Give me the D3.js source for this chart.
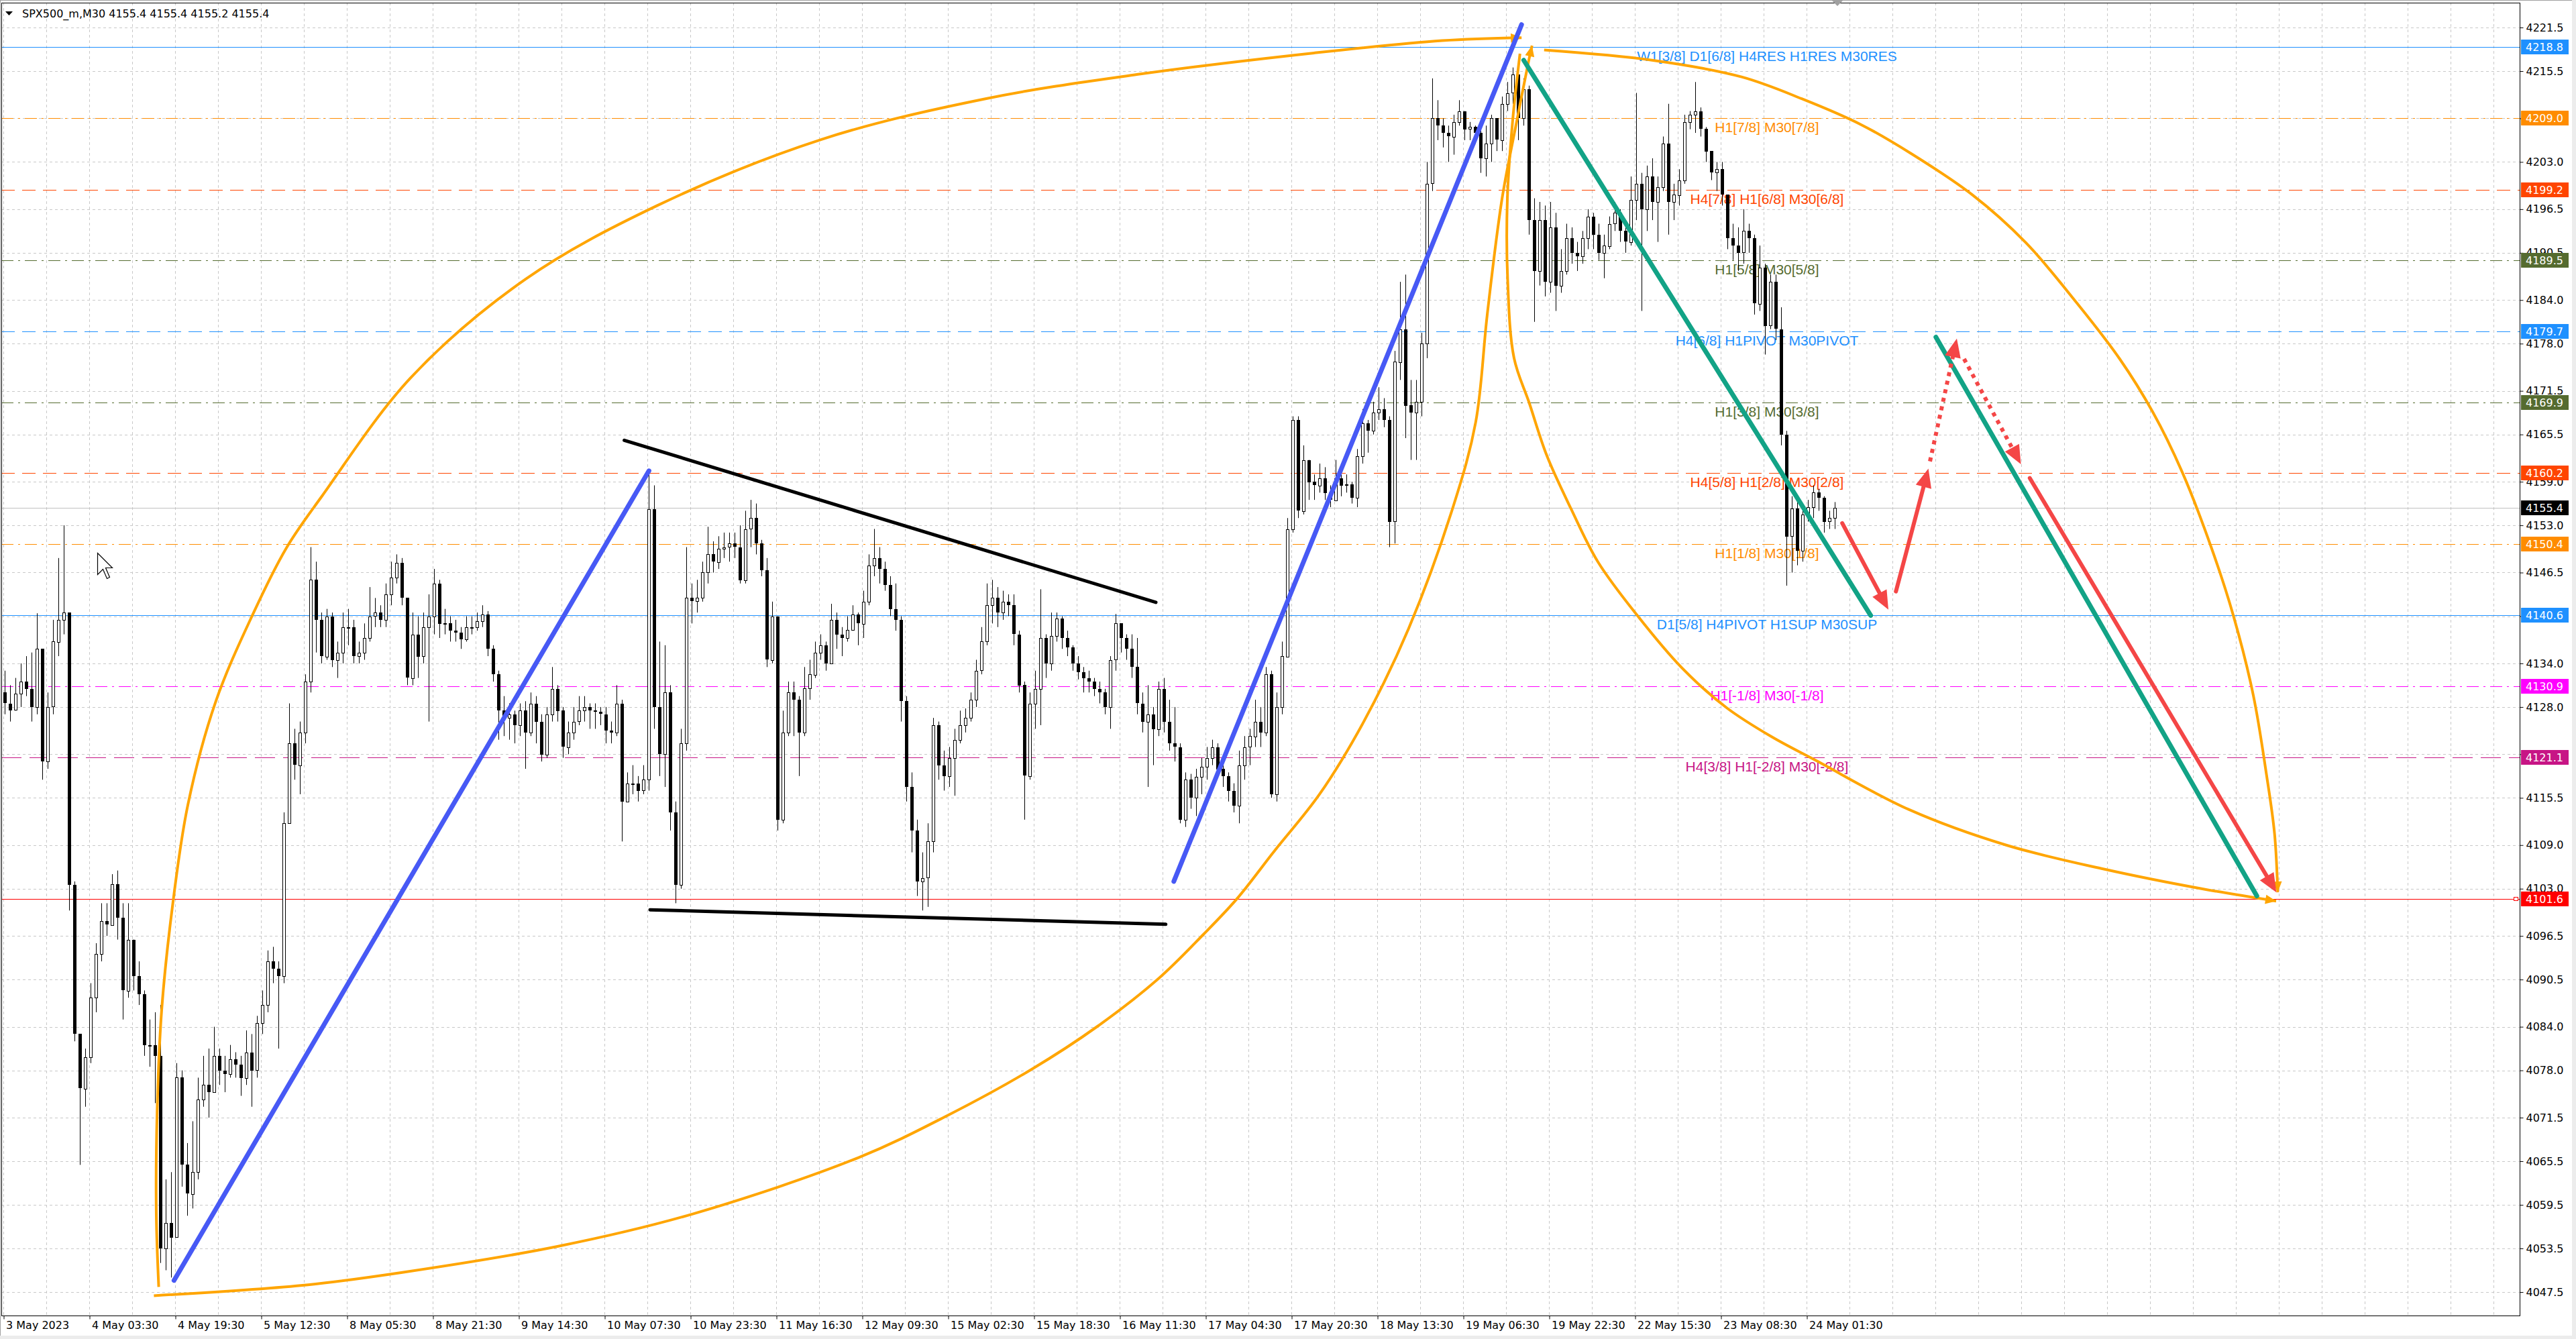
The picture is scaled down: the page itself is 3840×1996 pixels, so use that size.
<!DOCTYPE html>
<html>
<head>
<meta charset="utf-8">
<script src="https://cdnjs.cloudflare.com/ajax/libs/d3/7.8.5/d3.min.js"></script>
<style>
body { margin: 0; background: #fff; }
svg { display: block; }
</style>
</head>
<body>
<div id="container"></div>
<script>
var WIDTH = 3840,
	HEIGHT = 1996,
	PLOT_LEFT = 2,
	PLOT_TOP = 4,
	PLOT_RIGHT = 3756,
	PLOT_BOTTOM = 1961;

// hourly candles (open = previous close)
var FIRST_OPEN = 4130;
var closes = [
	4128.5,4127.6,4129.8,4131.5,4130.5,4128,4136,4120.5,4128,4137,
	4140,4141,4103.5,4083,4075.5,4079.8,4088,4094,4098.5,4098,
	4103.6,4099,4089,4096,4091,4088.5,4081.5,4081.5,4080,4053.5,
	4057,4055,4077,4065,4061,4064,4074,4076,4075,4080,
	4078,4077.5,4079.5,4078.8,4077,4080.5,4078,4084.5,4087,4093,
	4092,4091,4112,4123,4120,4124.5,4131.5,4145.5,4140,4135,
	4140.5,4134.5,4135.5,4139,4139,4135,4135.5,4137.5,4140.5,4141,
	4140,4143.5,4145.8,4147.8,4143,4132,4138,4135,4139,4140.5,
	4145,4139.5,4139.5,4138.5,4138.2,4137.3,4139,4139,4139.8,4140.7,
	4136,4132.5,4127.5,4126.5,4127,4125.5,4127.5,4124.5,4128.5,4126,
	4121.5,4127,4130.5,4127.5,4122.5,4124.5,4126,4127.5,4128,4127.5,
	4127.3,4127,4124.8,4124.5,4128.5,4115,4117.5,4117.5,4116.5,4118,
	4155.2,4128,4121.5,4130,4113.5,4103.5,4123,4143,4142.5,4143,
	4146.5,4149,4148,4149.8,4150,4150.5,4150,4145.5,4152.5,4154,
	4150.5,4146.8,4134.5,4140.5,4112.5,4124.5,4130,4129,4124.5,4130.6,
	4132.5,4135.5,4136.5,4134,4140,4138,4137.5,4138.6,4140.7,4139.5,
	4142.5,4147.5,4148.5,4147,4144.8,4141.5,4140,4128.8,4117,4111,
	4104,4104.5,4109.5,4125.5,4120,4118.5,4121,4123.5,4125.5,4126.5,
	4129,4133,4137,4142,4143,4141,4142.5,4142,4138,4131,
	4118.5,4128.5,4130.5,4137.5,4134,4137.8,4140.2,4137.5,4136.2,4134,
	4132.8,4132,4131.5,4130.5,4130,4128,4134.5,4139.5,4137.5,4136,
	4133.5,4128.5,4126,4127,4125,4130.5,4126,4123,4122.5,4112.5,
	4118,4115.5,4118.4,4119.8,4121,4122.5,4119.5,4118.5,4116.5,4114.5,
	4120,4122.5,4124,4126,4124.5,4132.5,4116,4128,4135,4152.5,
	4167.5,4155,4162,4159,4158.5,4159.5,4157.5,4156.5,4159.5,4158.5,
	4158.6,4156.8,4162.5,4167,4166,4168.5,4169,4167.5,4153.5,4175.5,
	4180,4169.5,4168.5,4170,4178,4200,4209,4208,4207,4206.5,
	4208.5,4210,4207.5,4207.8,4207,4203.5,4205.5,4209,4206,4211,
	4212.5,4215,4209,4213,4195,4188,4195,4186.5,4194,4186,
	4188,4192.5,4190.5,4190,4192.5,4195.5,4193,4190.5,4191.5,4194.5,
	4196,4193.5,4192,4197.8,4200,4196.5,4201,4197.5,4199.5,4205.5,
	4197.5,4198.5,4200.5,4208.5,4209.5,4210,4207.6,4204.5,4201.5,4202,
	4198.5,4192.5,4191.5,4190.5,4193.5,4192.5,4183.5,4188.5,4180.5,4186.5,
	4180,4165.5,4151.5,4155.3,4149.5,4154.5,4155.5,4157.5,4156.8,4153.5,
	4154,4155.4
];
var highs = [
	4133,4131,4132,4134,4135,4135.5,4140.9,4136,4130,4140,
	4148.5,4153,4141,4104,4083,4081,4090,4095.5,4101,4101,
	4105,4105.5,4101,4101,4096,4093,4089,4085,4086,4087,
	4063,4064,4079,4078,4068,4071,4077,4080,4081,4084,
	4081,4080,4081.5,4080.5,4080,4083.5,4083,4085.5,4089,4094.5,
	4095,4093,4113.5,4128.5,4125,4126,4132.5,4150,4148,4141,
	4141.5,4141,4137,4141,4141.5,4140,4137,4139.5,4144.5,4143,
	4142,4145,4148,4149,4148.5,4143,4141,4140.5,4141,4143.5,
	4147,4145.5,4141.5,4140.5,4140,4139,4140.5,4140.5,4141,4142,
	4141.2,4136.5,4133,4129.5,4128.5,4127.5,4128.5,4128.8,4130,4129.5,
	4127,4128,4133.5,4131,4128,4126,4128,4129.5,4129.5,4128.5,
	4128.5,4128,4128,4126,4131,4129,4119,4120,4118.5,4120,
	4160,4158.5,4137,4136.5,4131,4115,4125,4150,4145,4145.5,
	4148,4152.8,4150.8,4151.5,4152,4152,4152,4153,4155,4156.5,
	4156,4151,4148.5,4142.5,4140.5,4127.5,4131.5,4131.5,4129.5,4133.5,
	4134.5,4137,4138,4137,4142.2,4141,4139,4140.5,4142,4141,
	4144,4149,4152.5,4150,4148,4146,4145,4140.5,4129.5,4119,
	4112.5,4108,4112,4126.5,4126,4122,4122.5,4125,4127.5,4127.8,
	4130,4134.5,4139,4145,4145.5,4144.5,4144,4143.5,4143.5,4138.5,
	4131.5,4130,4133,4144.2,4138,4141,4141,4140.5,4138.5,4136.5,
	4135,4133.5,4133,4132,4131.5,4130.5,4135,4140.8,4139.5,4138,
	4138,4137.5,4130,4131,4128,4131.5,4132,4129,4128,4123,
	4119,4118.8,4119.5,4121,4122.5,4123.5,4123,4121,4119,4117.5,
	4122,4124,4125,4129,4128,4133.5,4133,4130,4137,4154,
	4168,4168,4164,4162,4160,4161.5,4161,4158.5,4162,4160,
	4160,4159,4163.5,4169,4167.5,4170,4172,4170.5,4168,4177,
	4186.5,4187.5,4173,4173,4179.5,4203,4214.5,4211.5,4209,4208,
	4209.5,4211.5,4210,4208.5,4208,4208.5,4208,4209.5,4209,4212,
	4214,4216,4215.5,4214.5,4213.5,4198,4197.5,4197,4197.5,4196,
	4191,4194.5,4194,4192,4193.5,4196.5,4196,4194.5,4193,4195.5,
	4197.5,4196.5,4195,4201,4212.5,4201.5,4202.5,4203.5,4201,4206.5,
	4211,4200,4202,4209.5,4210,4214,4210.5,4207.8,4204.5,4203,
	4203,4198.5,4194.5,4194,4196.5,4194.5,4193,4191.5,4189,4187.5,
	4187.5,4183,4166,4157,4156.5,4156,4156.5,4158.5,4158,4157,
	4155,4156.2
];
var lows = [
	4127,4126,4127.5,4128,4129.5,4126,4127,4118,4119.5,4127,
	4135,4138,4100,4082,4065,4073,4079,4086,4093,4096.5,
	4098,4096,4085,4088,4089,4087,4080,4078.5,4073.5,4051.5,
	4050.5,4049.5,4055,4062,4058,4059,4063,4073,4071.5,4075,
	4076,4075,4077,4077,4074.5,4076,4073,4077,4083,4086,
	4090,4081,4090,4112,4118,4116,4123,4130,4135.5,4134,
	4134.5,4133.5,4132,4134,4136.5,4134,4134,4134.5,4137,4139,
	4139,4139,4142,4145,4142,4131,4131,4132,4134,4126,
	4138,4137.5,4138,4137,4137,4136,4137,4138,4138.5,4139,
	4135,4131.5,4123.5,4124,4123.5,4123,4124,4119.5,4124,4123,
	4120.5,4121,4126,4126,4121,4121.5,4123.5,4125.5,4126,4125,
	4125,4125.5,4123,4123,4124,4109.5,4115,4116,4115,4116,
	4116.5,4125,4118.5,4117,4111,4101,4103,4122,4139.5,4141,
	4142.5,4145,4146.5,4147,4148.5,4148,4148.5,4145,4145,4150,
	4149,4146,4133.5,4134,4111,4112,4124,4124,4118.5,4124,
	4129,4132,4134.5,4133,4134,4136,4135,4137,4138.5,4136.5,
	4137.5,4142,4146,4145,4144,4140.5,4138.5,4126,4115,4108,
	4102,4100,4100.5,4108,4118,4116.5,4117,4115.8,4123,4124.5,
	4126,4128,4132.5,4136.5,4139.5,4139,4140,4140.5,4136.5,4130,
	4112.5,4118,4125,4125.5,4132,4133,4137,4136,4135,4133,
	4131.8,4130,4130,4129.5,4128.5,4127,4125,4133,4135.5,4134.5,
	4132,4127,4124.5,4117,4120,4124,4124.5,4122,4120.5,4112,
	4111.5,4114,4113,4116,4118,4120,4118.5,4117,4115,4113.5,
	4112,4118,4120,4122.5,4122.5,4124,4115.5,4115,4127,4135,
	4152,4154,4154.5,4156.5,4156.5,4157.5,4156.5,4155.5,4156.5,4157,
	4157.5,4156,4155.5,4161.5,4163,4165.5,4167.5,4166.5,4150,4150.5,
	4173,4165,4162,4162,4168,4176,4199,4206,4205,4203,
	4204,4208,4206,4206,4205.5,4201.5,4201,4203,4204.5,4204.5,
	4210,4211,4206,4208,4193,4181,4186,4184.5,4185,4182.5,
	4185,4187.5,4189,4188,4189,4191,4191,4189.5,4187,4191,
	4193.5,4192,4190.5,4191.5,4195,4182.5,4193.5,4195,4192,4199,
	4193,4195,4197,4200,4207.5,4207,4206.5,4203,4200.5,4199,
	4197,4191,4189.5,4188,4189,4190.5,4182,4182.5,4176.5,4180,
	4178.5,4164,4144.7,4146.5,4147.5,4148,4153.5,4154,4155,4152,
	4152.5,4152.5
];

var priceTicks = [4221.5, 4215.5, 4209.0, 4203.0, 4196.5, 4190.5, 4184.0, 4178.0, 4171.5, 4165.5,
	4159.0, 4153.0, 4146.5, 4140.5, 4134.0, 4128.0, 4121.5, 4115.5, 4109.0, 4103.0,
	4096.5, 4090.5, 4084.0, 4078.0, 4071.5, 4065.5, 4059.5, 4053.5, 4047.5];
var timeLabels = ['3 May 2023', '4 May 03:30', '4 May 19:30', '5 May 12:30', '8 May 05:30', '8 May 21:30',
	'9 May 14:30', '10 May 07:30', '10 May 23:30', '11 May 16:30', '12 May 09:30', '15 May 02:30',
	'15 May 18:30', '16 May 11:30', '17 May 04:30', '17 May 20:30', '18 May 13:30', '19 May 06:30',
	'19 May 22:30', '22 May 15:30', '23 May 08:30', '24 May 01:30'];

var levelPrices = [4218.8, 4209.0, 4199.2, 4189.5, 4179.7, 4169.9, 4160.2, 4150.4, 4140.6, 4130.9, 4121.1, 4101.6];
var levelTexts = ['W1[3/8] D1[6/8] H4RES H1RES M30RES', 'H1[7/8] M30[7/8]', 'H4[7/8] H1[6/8] M30[6/8]',
	'H1[5/8] M30[5/8]', 'H4[6/8] H1PIVOT M30PIVOT', 'H1[3/8] M30[3/8]', 'H4[5/8] H1[2/8] M30[2/8]',
	'H1[1/8] M30[1/8]', 'D1[5/8] H4PIVOT H1SUP M30SUP', 'H1[-1/8] M30[-1/8]', 'H4[3/8] H1[-2/8] M30[-2/8]', ''];
var lastPrice = 4155.4;
var headerText = 'SPX500_m,M30  4155.4 4155.4 4155.2 4155.4';

// hand drawn objects, [bar, price, bar, price] (bar = M30 bar index)
var blueLines = [[63.6, 4049.1, 240.6, 4160.5], [436.2, 4104.0, 565.8, 4221.9]];
var greenLines = [[566.6, 4217.0, 695.9, 4140.6], [720.2, 4178.9, 839.8, 4102.0]];
var blackLines = [[231.4, 4164.7, 429.5, 4142.4], [241.0, 4100.1, 433.2, 4098.1]];
var redArrows = [[685.3, 4153.3, 702.5, 4141.4], [705.3, 4143.9, 717.4, 4160.8], [755.2, 4159.5, 847.1, 4102.5]];
var redDotted = [[718.0, 4161.8, 728.0, 4178.7], [730.7, 4175.9, 751.9, 4161.4]];

var arcLeftUpper = [[57.9, 4048.2], [57.0, 4058.1], [57.3, 4072.2], [59.0, 4086.3], [63.0, 4100.5], [68.8, 4114.6],
	[79.1, 4128.7], [92.9, 4140.7], [105.5, 4149.9], [118.7, 4157.0], [151.8, 4173.3], [194.7, 4186.9],
	[243.7, 4197.0], [304.9, 4206.1], [366.0, 4211.7], [423.8, 4215.1], [488.5, 4218.0], [536.2, 4219.7], [565.8, 4220.1]];
var arcLeftLower = [[56.1, 4047.0], [113.5, 4048.5], [148.7, 4050.2], [206.8, 4053.8], [256.5, 4058.2], [318.7, 4066.0],
	[351.9, 4071.8], [383.0, 4078.1], [407.9, 4084.1], [430.7, 4090.7], [447.2, 4096.7], [459.7, 4101.6],
	[473.7, 4108.2], [490.5, 4116.0], [507.0, 4126.0], [523.7, 4138.8], [540.5, 4155.8], [548.7, 4167.2],
	[553.0, 4182.0], [558.5, 4197.9], [564.1, 4208.8], [568.6, 4217.2], [569.7, 4219.0]];
var arcRightUpper = [[574.2, 4218.4], [614.4, 4217.0], [647.8, 4214.7], [670.2, 4211.7], [692.5, 4208.1], [711.2, 4204.1],
	[733.7, 4198.5], [753.7, 4191.9], [772.5, 4183.7], [788.7, 4175.9], [801.0, 4168.6], [811.9, 4160.4],
	[822.7, 4150.1], [831.2, 4140.4], [838.5, 4129.6], [843.4, 4118.7], [846.4, 4110.6], [847.6, 4102.5]];
var arcRightLower = [[565.2, 4217.9], [562.5, 4208.8], [560.5, 4197.9], [560.6, 4186.9], [563.0, 4176.0], [568.6, 4169.9],
	[575.2, 4162.6], [584.2, 4155.3], [594.2, 4148.0], [608.7, 4140.7], [625.5, 4133.4], [642.2, 4127.9],
	[659.0, 4123.9], [675.7, 4120.6], [710.1, 4113.9], [746.4, 4109.0], [782.8, 4105.7], [819.2, 4103.0], [847.0, 4101.3]];

var LABEL_BAR = 657.25;

var levelColors = ['#1E90FF', '#FF8C00', '#FF4500', '#556B2F', '#1E90FF', '#556B2F', '#FF4500', '#FF8C00',
	'#1E90FF', '#FF00FF', '#C71585', '#FF0000'];
var levelDash = [null, '18,7,3,7', '20,11', '18,7,3,7', '20,11', '18,7,3,7', '20,11', '18,7,3,7',
	null, '18,7,3,7', '30,12', null];

var xScale = d3.scaleLinear().domain([0, 937.75]).range([5, PLOT_RIGHT]);
var yScale = d3.scaleLinear().domain([4047.5, 4221.5]).range([1926, 41]);

var AXIS_FONT = '"DejaVu Sans", Verdana, sans-serif';
var TEXT_FONT = '"Liberation Sans", Arial, sans-serif';

var translate = function (x, y) {
	return "translate(" + x + "," + y + ")";
};

function drawGrid(svg) {
	var g = svg.append('g').attr('stroke', '#c8c8c8').attr('stroke-dasharray', '4,4').attr('stroke-width', 1);
	g.selectAll('line.v').data(d3.range(0, 938, 16)).enter()
		.append('line')
		.attr('x1', function(d){ return Math.round(xScale(d)) + 0.5; })
		.attr('x2', function(d){ return Math.round(xScale(d)) + 0.5; })
		.attr('y1', PLOT_TOP)
		.attr('y2', PLOT_BOTTOM);
	g.selectAll('line.h').data(priceTicks).enter()
		.append('line')
		.attr('x1', PLOT_LEFT)
		.attr('x2', PLOT_RIGHT)
		.attr('y1', function(d){ return Math.round(yScale(d)) + 0.5; })
		.attr('y2', function(d){ return Math.round(yScale(d)) + 0.5; });
}

function drawLevels(svg) {
	var g = svg.append('g');
	levelPrices.forEach(function(p, i) {
		var y = Math.round(yScale(p)) + 0.5;
		g.append('line')
			.attr('x1', PLOT_LEFT).attr('x2', PLOT_RIGHT)
			.attr('y1', y).attr('y2', y)
			.attr('stroke', levelColors[i])
			.attr('stroke-width', 1)
			.attr('stroke-dasharray', levelDash[i]);
		if (levelTexts[i]) {
			g.append('text')
				.attr('x', xScale(LABEL_BAR))
				.attr('y', y + 20)
				.attr('text-anchor', 'middle')
				.attr('font-family', TEXT_FONT)
				.attr('font-size', 21)
				.attr('fill', levelColors[i])
				.text(levelTexts[i]);
		}
	});
	var ly = Math.round(yScale(lastPrice)) + 0.5;
	g.append('line')
		.attr('x1', PLOT_LEFT).attr('x2', PLOT_RIGHT)
		.attr('y1', ly).attr('y2', ly)
		.attr('stroke', '#c0c0c0').attr('stroke-width', 1);
}

function drawCandles(svg) {
	var g = svg.append('g');
	var bars = closes.map(function(c, i) {
		var o = i === 0 ? FIRST_OPEN : closes[i - 1];
		return { n: 2 * i + 0.5, o: o, h: highs[i], l: lows[i], c: c };
	});
	var sel = g.selectAll('g.bar').data(bars).enter().append('g');
	sel.append('line')
		.attr('x1', function(d){ return Math.round(xScale(d.n)) + 0.5; })
		.attr('x2', function(d){ return Math.round(xScale(d.n)) + 0.5; })
		.attr('y1', function(d){ return yScale(Math.max(d.h, d.o, d.c)); })
		.attr('y2', function(d){ return yScale(Math.min(d.l, d.o, d.c)); })
		.attr('stroke', '#000')
		.attr('stroke-width', 1);
	sel.append('rect')
		.attr('x', function(d){ return Math.round(xScale(d.n)) - (d.c >= d.o ? 1.5 : 2); })
		.attr('width', function(d){ return d.c >= d.o ? 4 : 5; })
		.attr('y', function(d){ return Math.round(yScale(Math.max(d.o, d.c))) + (d.c >= d.o ? 0.5 : 0); })
		.attr('height', function(d){ return Math.max(1, Math.round(yScale(Math.min(d.o, d.c)) - yScale(Math.max(d.o, d.c)))); })
		.attr('fill', function(d){ return d.c >= d.o ? '#fff' : '#000'; })
		.attr('stroke', function(d){ return d.c >= d.o ? '#000' : 'none'; })
		.attr('stroke-width', 1);
}

function arrowHead(g, x1, y1, x2, y2, len, half, color) {
	var dx = x2 - x1, dy = y2 - y1, L = Math.sqrt(dx * dx + dy * dy);
	dx /= L; dy /= L;
	var bx = x2 - dx * len, by = y2 - dy * len;
	g.append('polygon')
		.attr('points', [[x2, y2], [bx - dy * half, by + dx * half], [bx + dy * half, by - dx * half]].join(' '))
		.attr('fill', color);
	return [x2 - dx * len * 0.7, y2 - dy * len * 0.7];
}

function drawSegments(g, data, color, width, dash, withArrow) {
	data.forEach(function(s) {
		var x1 = xScale(s[0]), y1 = yScale(s[1]), x2 = xScale(s[2]), y2 = yScale(s[3]);
		var end = [x2, y2];
		if (withArrow) end = arrowHead(g, x1, y1, x2, y2, 28, 12, color);
		g.append('line')
			.attr('x1', x1).attr('y1', y1)
			.attr('x2', end[0]).attr('y2', end[1])
			.attr('stroke', color)
			.attr('stroke-width', width)
			.attr('stroke-linecap', dash ? 'butt' : 'round')
			.attr('stroke-dasharray', dash);
	});
}

function drawArcs(g) {
	var line = d3.line()
		.x(function(d){ return xScale(d[0]); })
		.y(function(d){ return yScale(d[1]); })
		.curve(d3.curveCatmullRom.alpha(0.5));
	[arcLeftUpper, arcLeftLower, arcRightUpper, arcRightLower].forEach(function(pts) {
		g.append('path')
			.attr('d', line(pts))
			.attr('fill', 'none')
			.attr('stroke', '#FFA500')
			.attr('stroke-width', 4);
		var a = pts[pts.length - 2], b = pts[pts.length - 1];
		arrowHead(g, xScale(a[0]), yScale(a[1]), xScale(b[0]), yScale(b[1]), 16, 7, '#FFA500');
	});
}

function drawObjects(svg) {
	var g = svg.append('g');
	drawArcs(g);
	drawSegments(g, blackLines, '#000', 5, null, false);
	drawSegments(g, blueLines, '#4759F5', 7, null, false);
	drawSegments(g, greenLines, '#12A386', 7, null, false);
	drawSegments(g, redArrows, '#F44646', 6, null, true);
	drawSegments(g, redDotted, '#F44646', 6, '6,7', true);
}

function drawAxes(svg) {
	var yAxis = d3.axisRight(yScale).tickValues(priceTicks).tickSize(5)
		.tickFormat(d3.format('.1f'));
	var ya = svg.append('g')
		.attr('transform', translate(PLOT_RIGHT + 0.5, 0))
		.call(yAxis);
	ya.select('.domain').remove();
	ya.selectAll('.tick line').attr('stroke', '#000');
	ya.selectAll('.tick text')
		.attr('x', 9)
		.attr('font-family', AXIS_FONT)
		.attr('font-size', 16)
		.attr('fill', '#000');

	var xAxis = d3.axisBottom(xScale)
		.tickValues(timeLabels.map(function(t, i){ return 32 * i; }))
		.tickSize(5)
		.tickFormat(function(d, i){ return timeLabels[i]; });
	var xa = svg.append('g')
		.attr('transform', translate(0.5, PLOT_BOTTOM + 0.5))
		.call(xAxis);
	xa.select('.domain').remove();
	xa.selectAll('.tick line').attr('stroke', '#000');
	xa.selectAll('.tick text')
		.attr('text-anchor', 'start')
		.attr('x', 3)
		.attr('y', 8)
		.attr('font-family', AXIS_FONT)
		.attr('font-size', 16)
		.attr('fill', '#000');

	// price tags for the levels and the last price
	var tags = levelPrices.map(function(p, i){ return { p: p, bg: levelColors[i] }; });
	tags.push({ p: lastPrice, bg: '#000' });
	var tg = svg.append('g');
	tags.forEach(function(t) {
		var y = Math.round(yScale(t.p));
		tg.append('rect')
			.attr('x', PLOT_RIGHT + 2).attr('y', y - 11)
			.attr('width', 71).attr('height', 22)
			.attr('fill', t.bg);
		tg.append('text')
			.attr('x', PLOT_RIGHT + 9).attr('y', y)
			.attr('dy', '0.36em')
			.attr('font-family', AXIS_FONT)
			.attr('font-size', 16)
			.attr('fill', '#fff')
			.text(d3.format('.1f')(t.p));
	});
	var ry = Math.round(yScale(levelPrices[11]));
	tg.append('rect')
		.attr('x', PLOT_RIGHT - 8.5).attr('y', ry - 2.5)
		.attr('width', 6).attr('height', 5)
		.attr('fill', '#fff').attr('stroke', '#FF0000');
}

function drawFrame(svg) {
	svg.append('rect')
		.attr('x', PLOT_LEFT + 0.5).attr('y', PLOT_TOP + 0.5)
		.attr('width', PLOT_RIGHT - PLOT_LEFT).attr('height', PLOT_BOTTOM - PLOT_TOP)
		.attr('fill', 'none').attr('stroke', '#000').attr('stroke-width', 1);
	svg.append('line').attr('x1', 0).attr('x2', WIDTH).attr('y1', 0.5).attr('y2', 0.5).attr('stroke', '#a0a0a0');
	svg.append('line').attr('x1', 0.5).attr('x2', 0.5).attr('y1', 0).attr('y2', HEIGHT).attr('stroke', '#a0a0a0');
	svg.append('rect').attr('x', 0).attr('y', 1991).attr('width', WIDTH).attr('height', 5).attr('fill', '#ececec');
	svg.append('rect').attr('x', 3834).attr('y', 0).attr('width', 6).attr('height', HEIGHT).attr('fill', '#ececec');
	// chart shift marker
	var sx = xScale(683.5);
	svg.append('polygon')
		.attr('points', [[sx - 8, 1], [sx + 8, 1], [sx, 9]].join(' '))
		.attr('fill', '#a0a0a0');
	// header
	svg.append('polygon').attr('points', '8,17 19,17 13.5,23').attr('fill', '#000');
	svg.append('text')
		.attr('x', 33).attr('y', 26)
		.attr('font-family', AXIS_FONT)
		.attr('font-size', 16)
		.attr('fill', '#000')
		.text(headerText);
	// mouse pointer left on the chart
	svg.append('path')
		.attr('d', 'M0,0 L0,32 L8,24 L14,38 L18,36 L12,22 L22,22 Z')
		.attr('transform', translate(145.5, 824.5))
		.attr('fill', '#fff').attr('stroke', '#000').attr('stroke-width', 1.2);
}

function drawChart() {
	var svg = d3.select('#container')
		.append('svg')
		.attr('width', WIDTH)
		.attr('height', HEIGHT);
	svg.append('rect').attr('width', WIDTH).attr('height', HEIGHT).attr('fill', '#fff');
	drawGrid(svg);
	drawLevels(svg);
	drawCandles(svg);
	drawObjects(svg);
	drawAxes(svg);
	drawFrame(svg);
}

window.onload = drawChart;
</script>
</body>
</html>
